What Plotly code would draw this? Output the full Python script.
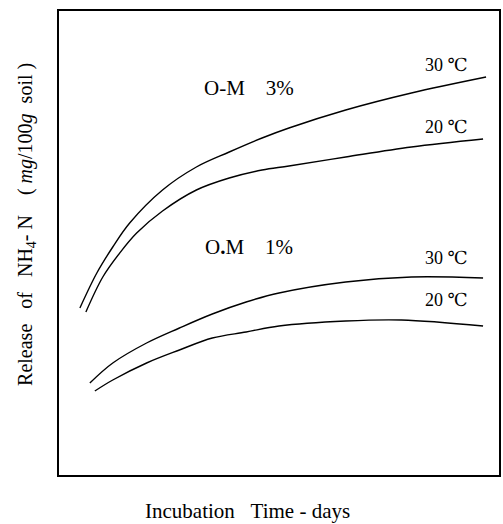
import plotly.graph_objects as go

# Arbitrary units (no tick values shown in the original)
om3_30_x = [21, 38, 54, 71, 104, 138, 171, 204, 231, 288, 354, 429]
om3_30_y = [167, 202, 228, 252, 285, 308, 323, 337, 347, 365, 382, 398]

om3_20_x = [27, 44, 61, 78, 104, 138, 171, 204, 231, 288, 354, 426]
om3_20_y = [163, 198, 222, 242, 264, 285, 297, 305, 309, 318, 328, 336]

om1_30_x = [31, 54, 88, 121, 154, 188, 221, 288, 354, 426]
om1_30_y = [92, 112, 132, 147, 161, 173, 182, 193, 198, 197]

om1_20_x = [36, 54, 88, 121, 154, 188, 221, 288, 344, 426]
om1_20_y = [84, 95, 112, 125, 137, 143, 149, 154, 155, 149]

FONT = "Liberation Serif, DejaVu Serif, serif"

fig = go.Figure()
for xs, ys in [(om3_30_x, om3_30_y), (om3_20_x, om3_20_y),
               (om1_30_x, om1_30_y), (om1_20_x, om1_20_y)]:
    fig.add_trace(go.Scatter(x=xs, y=ys, mode="lines",
                             line=dict(color="black", width=1.4, shape="spline", smoothing=1.0),
                             showlegend=False, hoverinfo="skip"))

def ann(x, y, text, size=21):
    fig.add_annotation(x=x, y=y, xref="x", yref="y", text=text, showarrow=False,
                       font=dict(family=FONT, size=size, color="black"))

ann(191, 387, "O-M&nbsp;&nbsp;&nbsp;&nbsp;3%")
ann(389, 410, "30 ℃", 18)
ann(389, 348, "20 ℃", 18)
ann(191, 228, "O<b>.</b>M&nbsp;&nbsp;&nbsp;&nbsp;1%")
ann(389, 217, "30 ℃", 18)
ann(389, 175, "20 ℃", 18)

fig.add_annotation(x=0, y=0.539, xref="paper", yref="paper", xanchor="center", yanchor="middle",
                   xshift=-32,
                   text="Release&nbsp;&nbsp;&nbsp;of&nbsp;&nbsp;&nbsp;NH<sub>4</sub>- N&nbsp;&nbsp;&nbsp;&nbsp;( <i>mg</i>/100<i>g</i>&nbsp;&nbsp;soil )",
                   textangle=-90, showarrow=False,
                   font=dict(family=FONT, size=20, color="black"))
fig.add_annotation(x=0.428, y=0, xref="paper", yref="paper", yanchor="middle", yshift=-36,
                   text="Incubation&nbsp;&nbsp;&nbsp;Time - days", showarrow=False,
                   font=dict(family=FONT, size=21, color="black"))

axis = dict(showgrid=False, zeroline=False, showticklabels=False, ticks="",
            showline=True, mirror=True, linecolor="black", linewidth=1.5)
fig.update_xaxes(range=[0, 442], **axis)
fig.update_yaxes(range=[0, 464], **axis)
fig.update_layout(width=503, height=524, margin=dict(l=59, r=2, t=11, b=49),
                  plot_bgcolor="white", paper_bgcolor="white")
fig.write_html("out.html", config={"displayModeBar": False},
               post_script="document.body.style.margin='0';document.body.style.overflow='hidden';")
